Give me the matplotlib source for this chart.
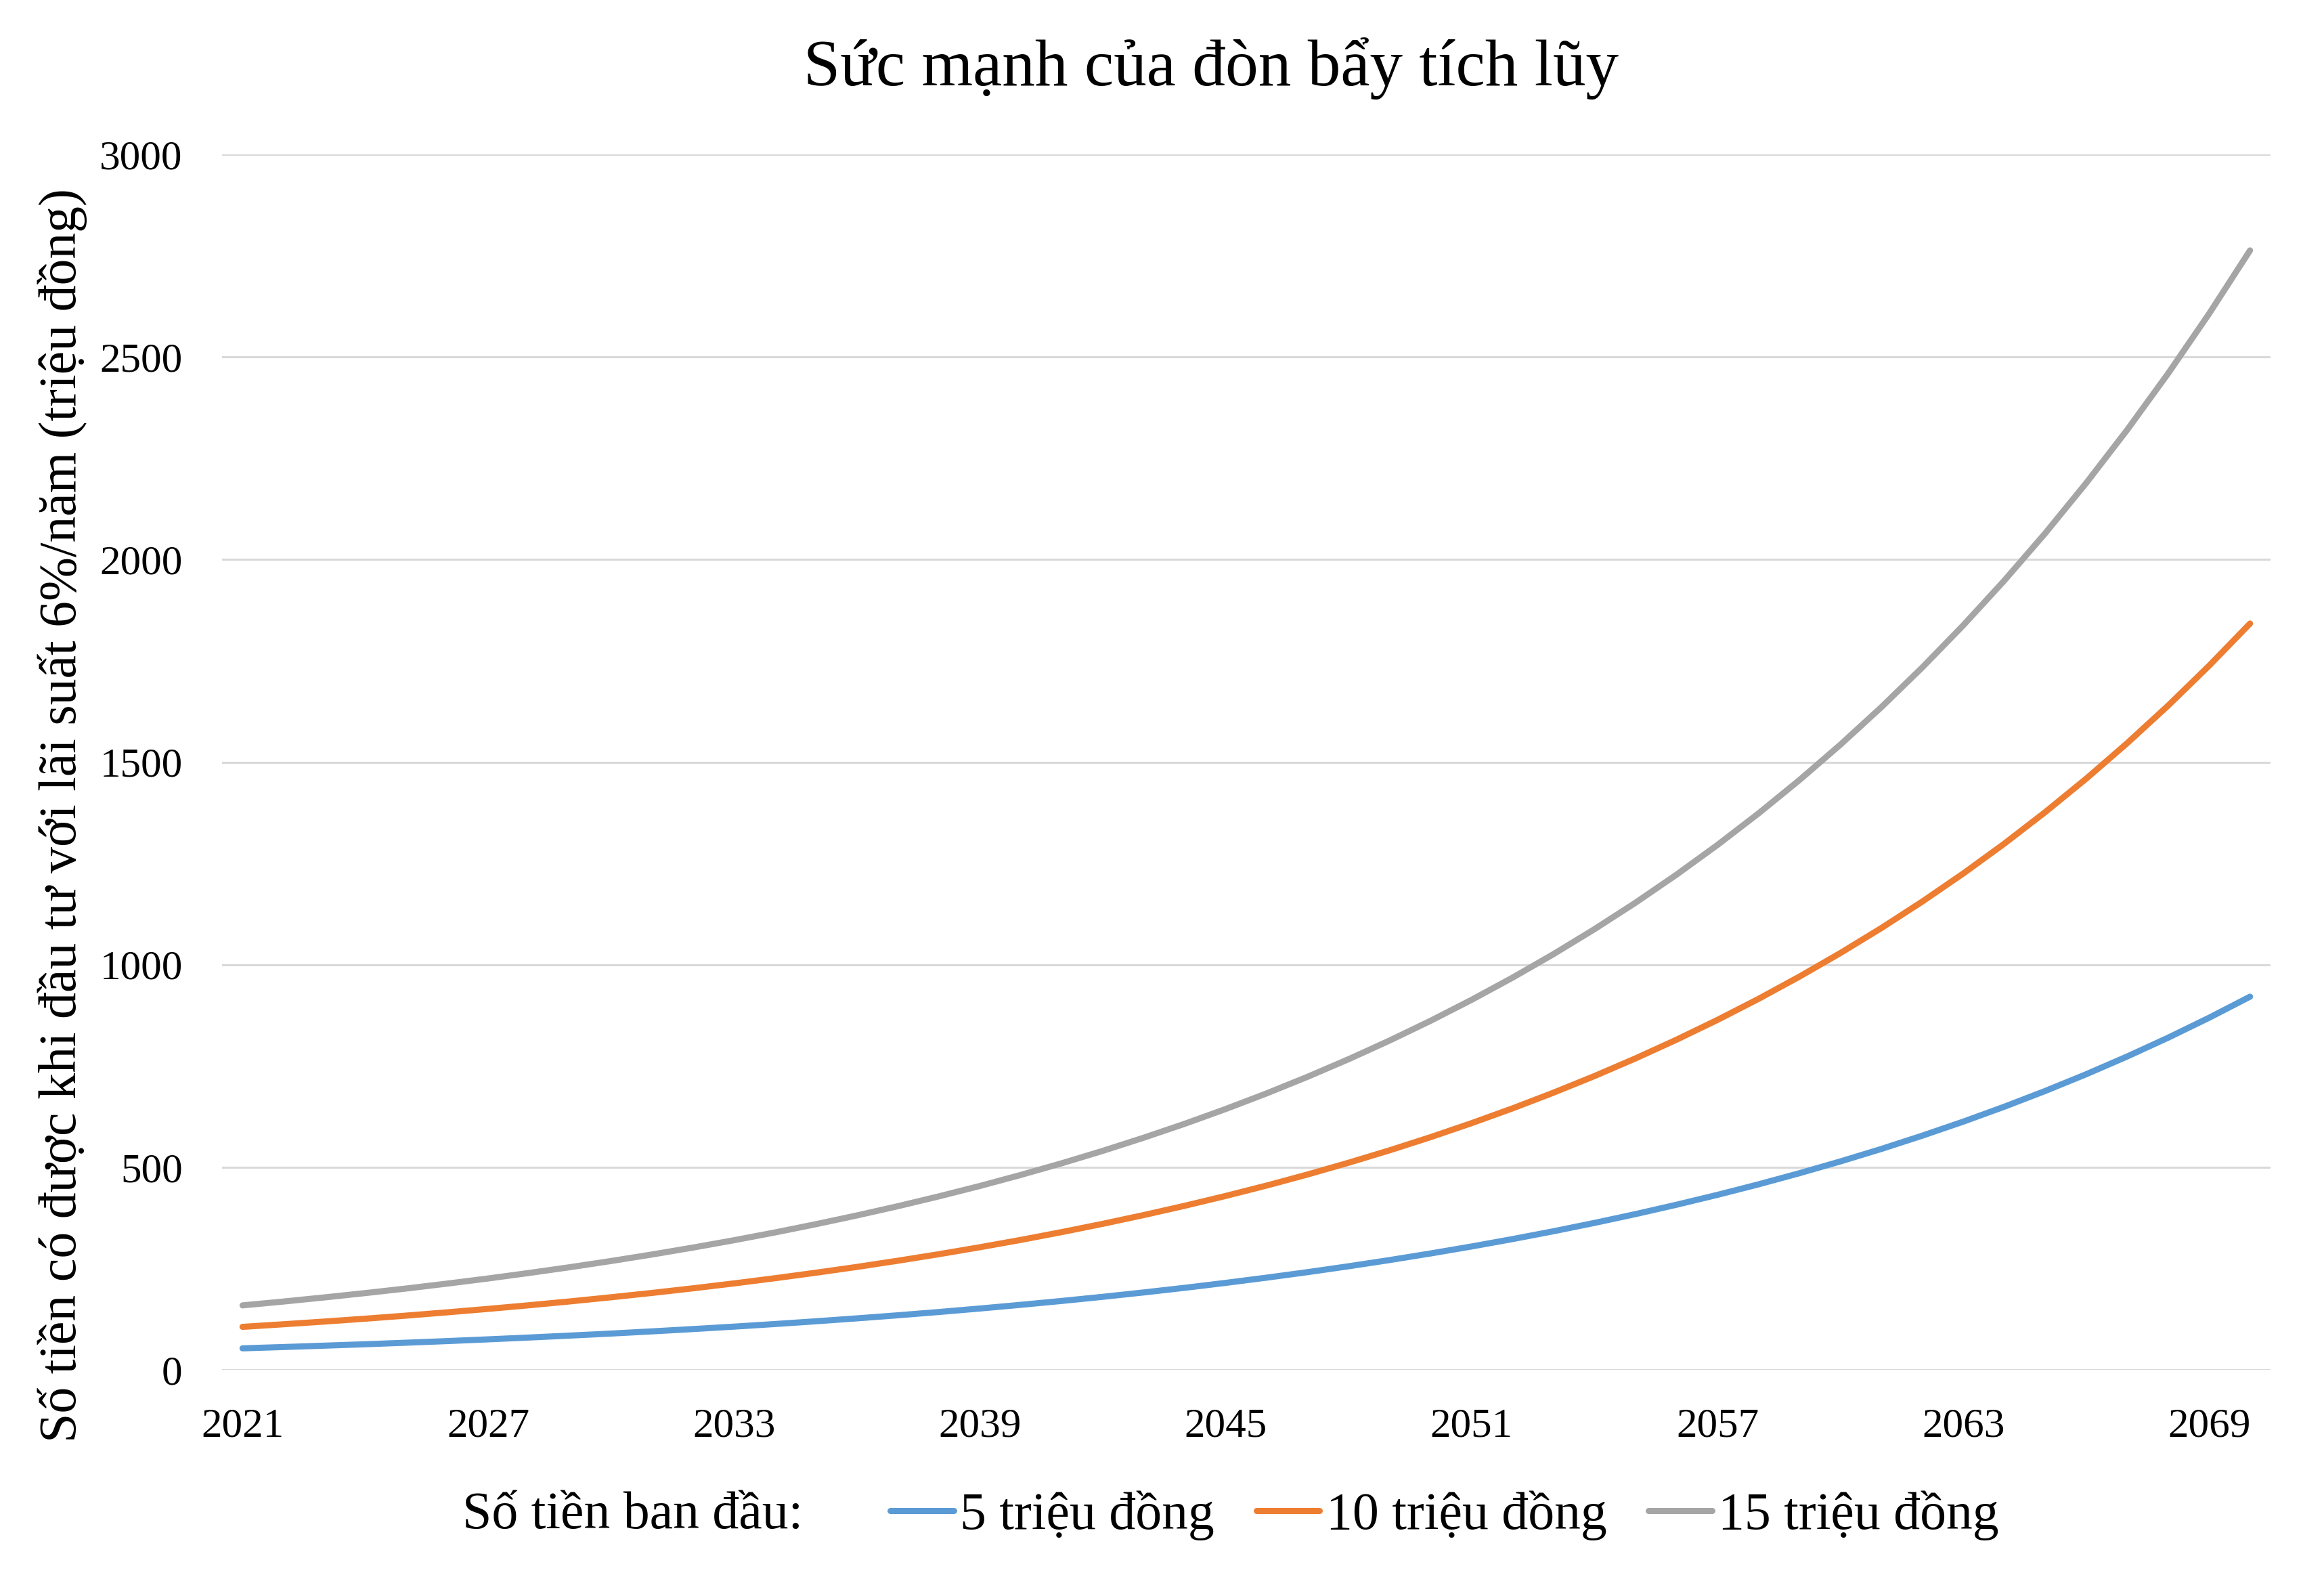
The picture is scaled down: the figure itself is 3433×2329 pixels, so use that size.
import matplotlib
matplotlib.use("Agg")
import matplotlib.pyplot as plt
from matplotlib.lines import Line2D

plt.rcParams['font.family'] = ['Liberation Serif', 'DejaVu Serif']

years = list(range(2021, 2071))
tick_years = [2021, 2027, 2033, 2039, 2045, 2051, 2057, 2063, 2069]
y_ticks = [0, 500, 1000, 1500, 2000, 2500, 3000]

series_5 = [53.0, 56.2, 59.6, 63.1, 66.9, 70.9, 75.2, 79.7, 84.5, 89.5,
            94.9, 100.6, 106.6, 113.0, 119.8, 127.0, 134.6, 142.7, 151.3, 160.4,
            170.0, 180.2, 191.0, 202.4, 214.6, 227.5, 241.1, 255.6, 270.9, 287.2,
            304.4, 322.7, 342.0, 362.6, 384.3, 407.4, 431.8, 457.7, 485.2, 514.3,
            545.1, 577.9, 612.5, 649.3, 688.2, 729.5, 773.3, 819.7, 868.9, 921.0]
series_10 = [106.0, 112.4, 119.1, 126.2, 133.8, 141.9, 150.4, 159.4, 168.9, 179.1,
             189.8, 201.2, 213.3, 226.1, 239.7, 254.0, 269.3, 285.4, 302.6, 320.7,
             340.0, 360.4, 382.0, 404.9, 429.2, 454.9, 482.2, 511.2, 541.8, 574.3,
             608.8, 645.3, 684.1, 725.1, 768.6, 814.7, 863.6, 915.4, 970.4, 1028.6,
             1090.3, 1155.7, 1225.0, 1298.5, 1376.5, 1459.0, 1546.6, 1639.4, 1737.8, 1842.0]
series_15 = [159.0, 168.5, 178.7, 189.4, 200.7, 212.8, 225.5, 239.1, 253.4, 268.6,
             284.7, 301.8, 319.9, 339.1, 359.5, 381.1, 403.9, 428.2, 453.8, 481.1,
             509.9, 540.5, 573.0, 607.3, 643.8, 682.4, 723.4, 766.8, 812.8, 861.5,
             913.2, 968.0, 1026.1, 1087.7, 1152.9, 1222.1, 1295.4, 1373.1, 1455.5, 1542.9,
             1635.4, 1733.6, 1837.6, 1947.8, 2064.7, 2188.6, 2319.9, 2459.1, 2606.6, 2763.0]

labels = ["5 triệu đồng", "10 triệu đồng", "15 triệu đồng"]
colors = ["#5B9BD5", "#ED7D31", "#A5A5A5"]

title = "Sức mạnh của đòn bẩy tích lũy"
ylabel = "Số tiền có được khi đầu tư với lãi suất 6%/năm (triệu đồng)"
legend_title = "Số tiền ban đầu:"

W, H = 3433, 2329
fig = plt.figure(figsize=(W / 100, H / 100), dpi=100)
ax = fig.add_axes([328 / W, 1 - 2023 / H, (3354 - 328) / W, (2023 - 228) / H])

for s, c, lab in zip([series_5, series_10, series_15], colors, labels):
    ax.plot(years, s, color=c, lw=6.5, solid_capstyle='round', label=lab, zorder=3)

ax.set_xlim(2020.5, 2070.5)
ax.set_ylim(0, 3000)
ax.set_xticks(tick_years)
ax.set_yticks(y_ticks)
ax.set_xticklabels([str(t) for t in tick_years])
ax.grid(axis='y', color='#D9D9D9', lw=2.2, zorder=0)
ax.grid(axis='x', visible=False)
for sp in ax.spines.values():
    sp.set_visible(False)
ax.tick_params(axis='both', length=0, labelsize=44)
ax.tick_params(axis='y', pad=42)
ax.tick_params(axis='x', pad=40)

fig.text(1789 / W, 1 - 101 / H, title, ha='center', va='center', fontsize=70)
fig.text(92 / W, 1 - 1204 / H, ylabel, ha='center', va='center', rotation=90, fontsize=56)

fig.text(935 / W, 1 - 2238 / H, legend_title, ha='center', va='center', fontsize=56)
handles = [Line2D([], [], color=c, lw=6.5, solid_capstyle='round') for c in colors]
fig.legend(handles, labels, loc='center', bbox_to_anchor=(2134 / W, 1 - 2238 / H),
           ncol=3, frameon=False, fontsize=56, handlelength=1.2, handletextpad=0.12,
           columnspacing=0.8, borderpad=0)

fig.savefig("out.png", dpi=100, facecolor='white')
